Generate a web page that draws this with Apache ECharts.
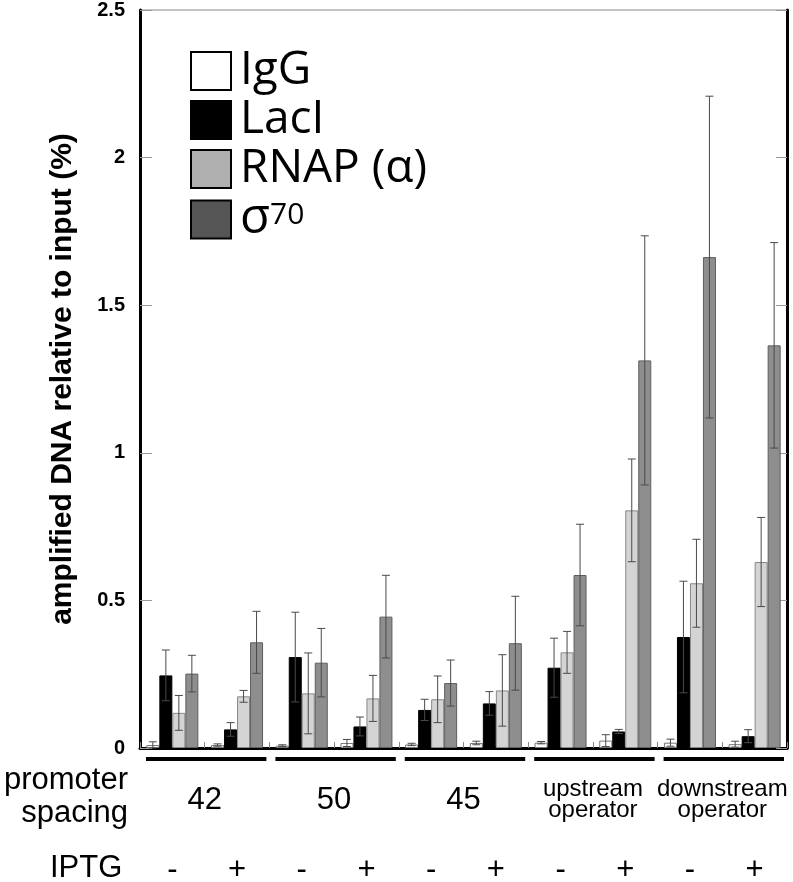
<!DOCTYPE html>
<html>
<head>
<meta charset="utf-8">
<script src="https://cdn.jsdelivr.net/npm/echarts@6/dist/echarts.min.js"></script>
<style>html,body{margin:0;padding:0;background:#fff}#c{width:793px;height:882px}</style>
</head>
<body>
<div id="c"></div>
<script>
// ---- data ----
var iptg = ['-', '+', '-', '+', '-', '+', '-', '+', '-', '+'];
var promoters = ['42', '50', '45', 'upstream\noperator', 'downstream\noperator'];
var yTicks = [0, 0.5, 1, 1.5, 2, 2.5];
var seriesNames = ['IgG', 'LacI', 'RNAP (α)', 'σ70'];

var igg      = [0.010, 0.010, 0.008, 0.017, 0.012, 0.017, 0.018, 0.025, 0.018, 0.013];
var iggErr   = [0.011, 0.004, 0.003, 0.012, 0.004, 0.006, 0.004, 0.020, 0.012, 0.010];
var lacI     = [0.246, 0.063, 0.308, 0.073, 0.129, 0.151, 0.272, 0.056, 0.376, 0.040];
var lacIErr  = [0.086, 0.023, 0.152, 0.032, 0.036, 0.040, 0.100, 0.007, 0.189, 0.022];
var rnap     = [0.119, 0.175, 0.185, 0.168, 0.165, 0.195, 0.324, 0.805, 0.558, 0.630];
var rnapErr  = [0.059, 0.020, 0.137, 0.078, 0.079, 0.121, 0.071, 0.174, 0.149, 0.151];
var sigma    = [0.252, 0.358, 0.289, 0.445, 0.220, 0.355, 0.586, 1.313, 1.663, 1.364];
var sigmaErr = [0.062, 0.105, 0.116, 0.140, 0.078, 0.159, 0.172, 0.422, 0.545, 0.348];

// ---- styling ----
var values = [igg, lacI, rnap, sigma];
var errs = [iggErr, lacIErr, rnapErr, sigmaErr];
var barFill = ['#ffffff', '#000000', '#d4d4d4', '#8e8e8e'];
var barBorder = ['#777777', '#000000', '#888888', '#5e5e5e'];
var legendFill = ['#ffffff', '#000000', '#b0b0b0', '#555555'];
var BAR_W = 13;
var FONT = '"Liberation Sans", Arial, Helvetica, sans-serif';
var LFONT = '"Open Sans", Lato, sans-serif';

var chart = echarts.init(document.getElementById('c'), null, {renderer: 'canvas'});

var series = [];
seriesNames.forEach(function (name, i) {
  series.push({
    name: name,
    type: 'bar',
    xAxisIndex: 0, yAxisIndex: 0,
    barWidth: BAR_W,
    barGap: '0%',
    itemStyle: {color: barFill[i], borderColor: barBorder[i], borderWidth: 1},
    data: values[i],
    z: 2
  });
});
seriesNames.forEach(function (name, i) {
  var d = values[i].map(function (v, k) { return [k, v, errs[i][k]]; });
  series.push({
    type: 'custom',
    xAxisIndex: 0, yAxisIndex: 0,
    z: 5,
    silent: true,
    data: d,
    renderItem: function (params, api) {
      var k = api.value(0), v = api.value(1), e = api.value(2);
      var off = (i - 1.5) * BAR_W;
      var top = api.coord([k, v + e]);
      var bot = api.coord([k, Math.max(v - e, 0)]);
      var x = top[0] + off;
      var c = 4;
      var st = {stroke: '#4a4a4a', lineWidth: 1};
      return {type: 'group', children: [
        {type: 'line', shape: {x1: x, y1: top[1], x2: x, y2: bot[1]}, style: st},
        {type: 'line', shape: {x1: x - c, y1: top[1], x2: x + c, y2: top[1]}, style: st},
        {type: 'line', shape: {x1: x - c, y1: bot[1], x2: x + c, y2: bot[1]}, style: st}
      ]};
    }
  });
});
// group underlines
series.push({
  type: 'custom',
  xAxisIndex: 1, yAxisIndex: 0,
  silent: true,
  clip: false,
  data: promoters.map(function (p, k) { return [k, 0]; }),
  renderItem: function (params, api) {
    var p = api.coord([api.value(0), 0]);
    var w = api.size([1, 0])[0];
    return {type: 'line', shape: {x1: p[0] - w / 2 + 6, y1: p[1] + 11, x2: p[0] + w / 2 - 3, y2: p[1] + 11},
      style: {stroke: '#000', lineWidth: 4}};
  }
});

var option = {
  animation: false,
  backgroundColor: '#ffffff',
  textStyle: {fontFamily: FONT},
  grid: {left: 140, right: 6, top: 10, bottom: 134, show: true, borderColor: '#888', borderWidth: 1,
    containLabel: false, outerBoundsMode: 'none'},
  legend: {
    orient: 'vertical',
    left: 190, top: 48,
    padding: 0,
    itemWidth: 40, itemHeight: 38, itemGap: 3,
    icon: 'rect',
    selectedMode: false,
    data: seriesNames.map(function (n, i) {
      return {name: n, itemStyle: {color: legendFill[i], borderColor: '#000', borderWidth: 2}};
    }),
    formatter: function (n) { return n === 'σ70' ? '{s|σ}{p|70}' : n; },
    textStyle: {
      fontFamily: LFONT, fontSize: 46, color: '#000', lineHeight: 38,
      padding: [0, 0, 0, 4],
      rich: {
        s: {fontFamily: LFONT, fontSize: 49, color: '#000', lineHeight: 38},
        p: {fontFamily: LFONT, fontSize: 30, color: '#000', lineHeight: 38, verticalAlign: 'top', padding: [0, 0, 18, 0]}
      }
    }
  },
  xAxis: [
    {
      type: 'category', data: iptg, position: 'bottom',
      axisLine: {lineStyle: {color: '#000', width: 3}},
      axisTick: {show: true, inside: true, length: 6, lineStyle: {color: '#888', width: 1}},
      axisLabel: {fontSize: 31, color: '#000', margin: 122, fontFamily: FONT, verticalAlign: 'middle'}
    },
    {
      type: 'category', data: promoters, position: 'bottom',
      axisLine: {show: false}, axisTick: {show: false},
      axisLabel: {
        margin: 52, verticalAlign: 'middle', color: '#000',
        formatter: function (v) {
          if (v.indexOf('\n') >= 0) return v.split('\n').map(function (s) { return '{m|' + s + '}'; }).join('\n');
          return '{b|' + v + '}';
        },
        rich: {
          b: {fontSize: 31, fontFamily: FONT, color: '#000', lineHeight: 34},
          m: {fontSize: 24, fontFamily: FONT, color: '#000', lineHeight: 21}
        }
      }
    }
  ],
  yAxis: [
    {
      type: 'value', min: 0, max: 2.5, interval: 0.5, position: 'left',
      name: 'amplified DNA relative to input (%)', nameLocation: 'middle', nameGap: 62,
      nameTextStyle: {fontSize: 30, fontWeight: 'bold', color: '#000', fontFamily: FONT},
      axisLine: {show: true, lineStyle: {color: '#000', width: 3}},
      axisTick: {show: true, inside: true, length: 12, lineStyle: {color: '#999', width: 1}},
      splitLine: {show: false},
      axisLabel: {fontSize: 20, fontWeight: 'bold', color: '#000', margin: 15, fontFamily: FONT}
    },
    {
      type: 'value', min: 0, max: 2.5, interval: 0.5, position: 'right',
      axisLine: {show: true, lineStyle: {color: '#000', width: 3}},
      axisTick: {show: true, inside: true, length: 11, lineStyle: {color: '#999', width: 1}},
      splitLine: {show: false},
      axisLabel: {show: false}
    }
  ],
  graphic: [
    {type: 'text', right: 793 - 128, top: 764, style: {text: 'promoter\nspacing', fontSize: 31, fontFamily: FONT, fill: '#000', textAlign: 'right', lineHeight: 33}},
    {type: 'text', left: 50, top: 853, style: {text: 'IPTG', fontSize: 31, fontFamily: FONT, fill: '#000'}}
  ],
  series: series
};
chart.setOption(option);
</script>
</body>
</html>
